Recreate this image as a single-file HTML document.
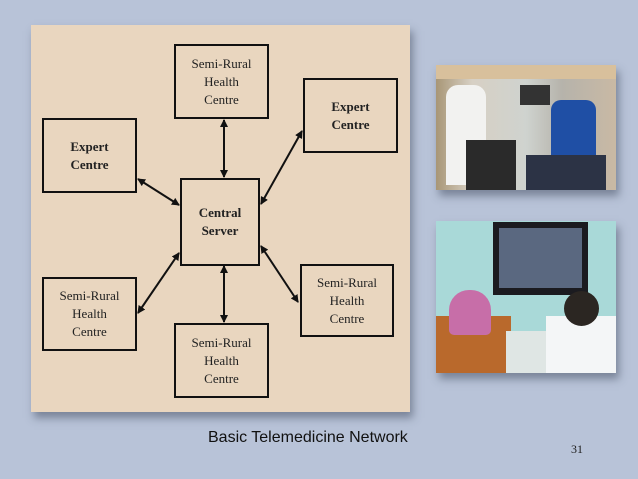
<!DOCTYPE html>
<html><head><style>
body{margin:0;width:638px;height:479px;background:#b8c3d8;position:relative;overflow:hidden;font-family:"Liberation Serif",serif}
.panel{position:absolute;left:31px;top:25px;width:379px;height:387px;background:#e9d6bf;box-shadow:3px 6px 8px rgba(60,70,90,.5)}
.b{position:absolute;border:2px solid #111;box-sizing:border-box;display:flex;align-items:center;justify-content:center;text-align:center;font-size:13px;line-height:18px;color:#222}
.bold{font-weight:bold}
.ph{position:absolute;box-shadow:3px 6px 8px rgba(60,70,90,.5);overflow:hidden}
</style></head><body>
<div class="panel"></div>
<svg style="position:absolute;left:0;top:0" width="638" height="479">
<defs><marker id="a" markerWidth="8" markerHeight="8" refX="7" refY="4" orient="auto-start-reverse" markerUnits="userSpaceOnUse"><path d="M0,0 L8,4 L0,8 Z" fill="#111"/></marker></defs>
<g stroke="#111" stroke-width="2" marker-start="url(#a)" marker-end="url(#a)">
<line x1="224" y1="120" x2="224" y2="177"/>
<line x1="224" y1="266" x2="224" y2="322"/>
<line x1="138" y1="179" x2="179" y2="205"/>
<line x1="302" y1="131" x2="261" y2="204"/>
<line x1="179" y1="253" x2="138" y2="313"/>
<line x1="261" y1="246" x2="298" y2="302"/>
</g></svg>
<div class="b" style="left:174px;top:44px;width:95px;height:75px">Semi-Rural<br>Health<br>Centre</div>
<div class="b bold" style="left:303px;top:78px;width:95px;height:75px">Expert<br>Centre</div>
<div class="b bold" style="left:42px;top:118px;width:95px;height:75px">Expert<br>Centre</div>
<div class="b bold" style="left:180px;top:178px;width:80px;height:88px">Central<br>Server</div>
<div class="b" style="left:42px;top:277px;width:95px;height:74px">Semi-Rural<br>Health<br>Centre</div>
<div class="b" style="left:174px;top:323px;width:95px;height:75px">Semi-Rural<br>Health<br>Centre</div>
<div class="b" style="left:300px;top:264px;width:94px;height:73px">Semi-Rural<br>Health<br>Centre</div>
<div class="ph" style="left:436px;top:65px;width:180px;height:125px;background:linear-gradient(90deg,#a89676 0%,#d7d0c4 20%,#cfd3cf 50%,#b6b3ab 70%,#c9b9a4 100%)">
<div style="position:absolute;left:0;top:0;width:180px;height:14px;background:#d8c09c"></div>
<div style="position:absolute;left:84px;top:20px;width:30px;height:20px;background:#333"></div>
<div style="position:absolute;left:10px;top:20px;width:40px;height:100px;background:#f2f2f0;border-radius:12px 12px 0 0"></div>
<div style="position:absolute;left:30px;top:75px;width:50px;height:50px;background:#2a2a2a"></div>
<div style="position:absolute;left:115px;top:35px;width:45px;height:55px;background:#1f4fa5;border-radius:10px 10px 0 0"></div>
<div style="position:absolute;left:90px;top:90px;width:80px;height:35px;background:#2c3345"></div>
</div>
<div class="ph" style="left:436px;top:221px;width:180px;height:152px;background:#a9d9d8">
<div style="position:absolute;left:57px;top:1px;width:95px;height:73px;background:#1b1b20"></div>
<div style="position:absolute;left:63px;top:7px;width:83px;height:60px;background:#5a6880"></div>
<div style="position:absolute;left:0;top:95px;width:75px;height:57px;background:#b9692c"></div>
<div style="position:absolute;left:13px;top:69px;width:42px;height:45px;background:#c76ea8;border-radius:20px 20px 5px 5px"></div>
<div style="position:absolute;left:70px;top:110px;width:60px;height:42px;background:#dfe6e4"></div>
<div style="position:absolute;left:110px;top:95px;width:70px;height:57px;background:#f4f6f7"></div>
<div style="position:absolute;left:128px;top:70px;width:35px;height:35px;background:#2b2622;border-radius:50%"></div>
</div>
<div style="position:absolute;left:208px;top:429px;font-family:'Liberation Sans',sans-serif;font-size:16px;color:#111">Basic Telemedicine Network</div>
<div style="position:absolute;left:571px;top:442px;font-size:12px;color:#222">31</div>
</body></html>
